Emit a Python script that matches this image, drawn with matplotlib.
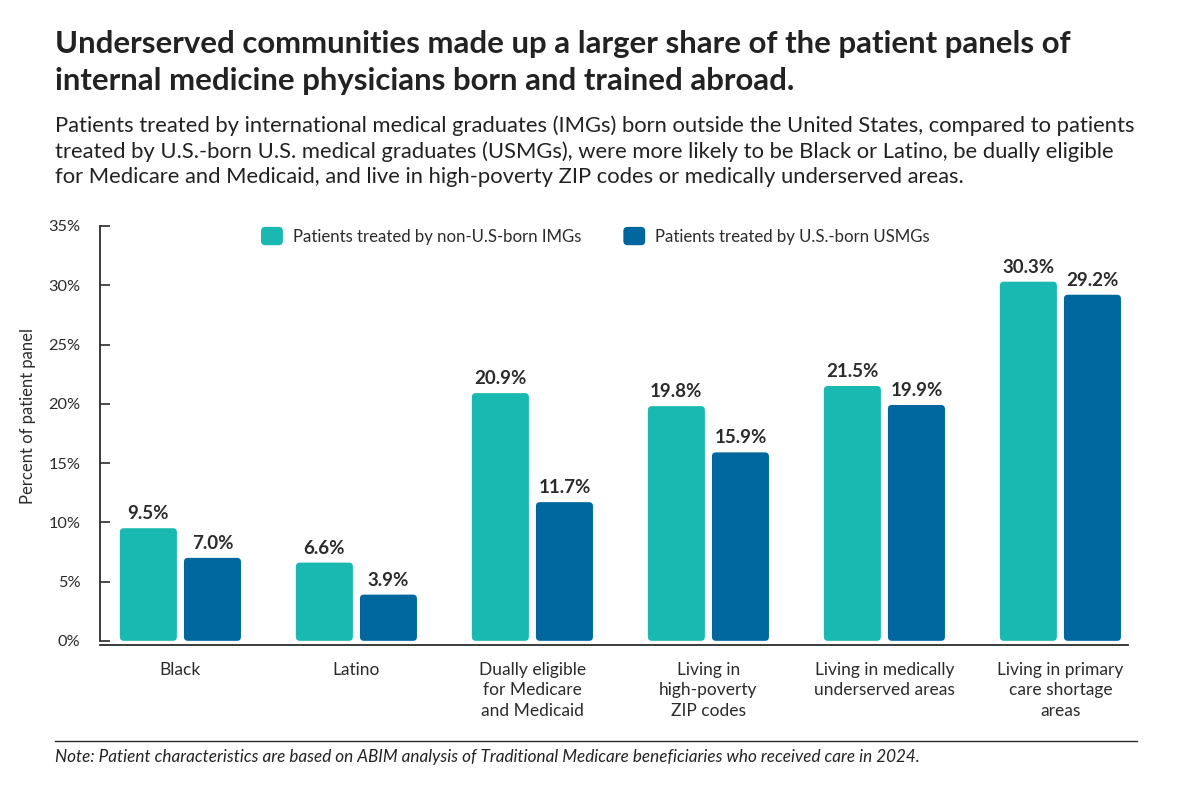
import matplotlib.pyplot as plt
from matplotlib.patches import FancyBboxPatch, Patch
from matplotlib.legend_handler import HandlerPatch
import numpy as np

categories = [
    "Black",
    "Latino",
    "Dually eligible\nfor Medicare\nand Medicaid",
    "Living in\nhigh-poverty\nZIP codes",
    "Living in medically\nunderserved areas",
    "Living in primary\ncare shortage\nareas",
]
img_values = [9.5, 6.6, 20.9, 19.8, 21.5, 30.3]
usmg_values = [7.0, 3.9, 11.7, 15.9, 19.9, 29.2]
series_names = ["Patients treated by non-U.S-born IMGs", "Patients treated by U.S.-born USMGs"]
y_ticks = [0, 5, 10, 15, 20, 25, 30, 35]

title_lines = [
    "Underserved communities made up a larger share of the patient panels of",
    "internal medicine physicians born and trained abroad.",
]
subtitle_lines = [
    "Patients treated by international medical graduates (IMGs) born outside the United States, compared to patients",
    "treated by U.S.-born U.S. medical graduates (USMGs), were more likely to be Black or Latino, be dually eligible",
    "for Medicare and Medicaid, and live in high-poverty ZIP codes or medically underserved areas.",
]
note = "Note: Patient characteristics are based on ABIM analysis of Traditional Medicare beneficiaries who received care in 2024."

TEAL = "#19b8b0"
NAVY = "#00679e"
TEXT = "#2b2b2b"


class RoundHandler(HandlerPatch):
    def create_artists(self, legend, orig_handle, xdescent, ydescent, width, height, fontsize, trans):
        p = FancyBboxPatch((-xdescent, -ydescent), width, height,
                           boxstyle="round,pad=0,rounding_size=3",
                           facecolor=orig_handle.get_facecolor(), edgecolor="none", transform=trans)
        return [p]


plt.rcParams["font.family"] = ["Lato", "DejaVu Sans"]

W, H = 1193, 791
fig = plt.figure(figsize=(W / 100, H / 100), dpi=100)
ax = fig.add_axes([0.0838, 0.1846, 0.8617, 0.5297])

x = np.arange(len(categories))
width = 0.324
offset = 0.182

ax.set_xlim(-0.457, 5.384)
ax.set_ylim(-0.35, 35)

# px per data unit, used to keep rounded corners circular
ax_w_px = 0.8617 * W
ax_h_px = 0.5297 * H
x_per_px = (5.384 + 0.457) / ax_w_px
y_per_px = 35.35 / ax_h_px
radius = 4 * x_per_px

for vals, off, color in [(img_values, -offset, TEAL), (usmg_values, offset, NAVY)]:
    bars = ax.bar(x + off, vals, width=width, color=color)
    for b, v in zip(bars, vals):
        b.set_visible(False)
        p = FancyBboxPatch(
            (b.get_x(), 0), b.get_width(), v,
            boxstyle=f"round,pad=0,rounding_size={radius}",
            mutation_aspect=y_per_px / x_per_px,
            facecolor=color, edgecolor="none",
        )
        ax.add_patch(p)
        ax.text(b.get_x() + b.get_width() / 2, v + 0.5, f"{v:.1f}%",
                ha="center", va="bottom", fontsize=13.5, fontweight="bold", color=TEXT)

ax.set_xticks(x)
ax.set_xticklabels(categories, fontsize=12.5, color=TEXT, linespacing=1.35, va="top")
ax.tick_params(axis="x", length=0, pad=12)
ax.set_yticks(y_ticks)
ax.set_yticklabels([f"{t}%" for t in y_ticks], fontsize=11.8, color=TEXT)
ax.tick_params(axis="y", direction="in", length=7, width=1.2, color=TEXT, pad=14)

for s in ["top", "right"]:
    ax.spines[s].set_visible(False)
ax.spines["left"].set_color(TEXT)
ax.spines["left"].set_linewidth(1.3)
ax.spines["bottom"].set_color(TEXT)
ax.spines["bottom"].set_linewidth(1.3)
ax.spines["left"].set_bounds(0, 35)

handles = [Patch(facecolor=TEAL, label=series_names[0]),
           Patch(facecolor=NAVY, label=series_names[1])]
ax.legend(handles=handles, ncol=2, loc="center", bbox_to_anchor=(0.482, 0.976),
          frameon=False, fontsize=12.1, handlelength=1.3, handleheight=1.3,
          columnspacing=2.5, handletextpad=0.6, labelcolor=TEXT,
          handler_map={Patch: RoundHandler()})

fig.text(0.0235, 0.474, "Percent of patient panel", rotation=90, ha="center", va="center",
         fontsize=12, color=TEXT)

for line, base in zip(title_lines, [53, 90]):
    fig.text(55 / W, 1 - base / H, line, ha="left", va="baseline",
             fontsize=22.4, fontweight="bold", color="#222222")
for line, base in zip(subtitle_lines, [132, 157.5, 183]):
    fig.text(55 / W, 1 - base / H, line, ha="left", va="baseline",
             fontsize=15.8, color="#222222")

fig.add_artist(plt.Line2D([55 / W, 1137 / W], [1 - 741 / H, 1 - 741 / H], color=TEXT, linewidth=1.0))
fig.text(55 / W, 1 - 762 / H, note, ha="left", va="baseline",
         fontsize=12.3, style="italic", color="#222222")

fig.savefig("out.png", dpi=100)
